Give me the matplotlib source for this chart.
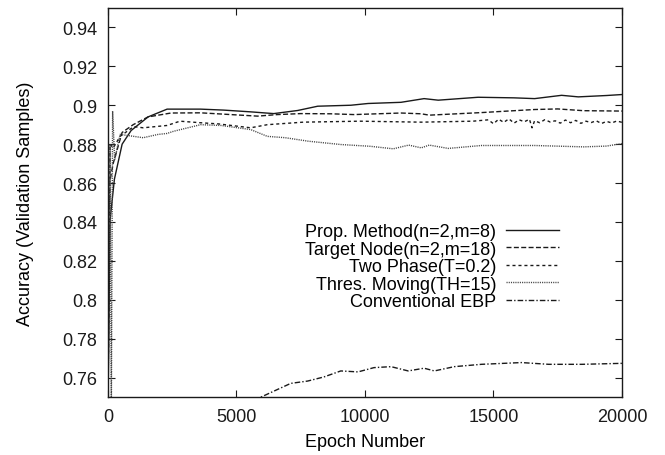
import matplotlib
matplotlib.use('Agg')
import matplotlib.pyplot as plt
from matplotlib.ticker import StrMethodFormatter

plt.rcParams['font.family'] = ['Liberation Sans', 'DejaVu Sans']
plt.rcParams['font.size'] = 13

# 데이터
prop_epoch = [0, 80, 250, 550, 900, 1560, 2300, 3600, 4500, 5550, 6450, 7380, 8160,
              9450, 10120, 11400, 12300, 12850, 14400, 15800, 16600, 17650, 18300, 19400, 20000]
prop_acc = [0.745, 0.841, 0.862, 0.880, 0.887, 0.894, 0.898, 0.898, 0.8975, 0.8966, 0.8957, 0.8973, 0.8995,
            0.900, 0.9009, 0.9015, 0.9034, 0.9026, 0.9041, 0.9038, 0.9034, 0.9051, 0.9043, 0.9050, 0.9055]

target_epoch = [0, 60, 200, 550, 980, 1560, 2450, 3600, 5820, 6600, 7500, 8670, 9570, 11400,
                12190, 12500, 14500, 16600, 17500, 18500, 20000]
target_acc = [0.745, 0.860, 0.870, 0.886, 0.890, 0.894, 0.896, 0.8961, 0.8944, 0.8952, 0.8957, 0.8956, 0.8952, 0.896,
              0.8956, 0.8949, 0.8962, 0.8978, 0.8981, 0.8972, 0.8970]

two_epoch = [0, 80, 200, 470, 1000, 1370, 2300, 2800, 3600, 4300, 5550, 6200, 7600, 9800, 12190,
             13000, 14200, 14800, 15000, 15200, 15400, 15600, 15800, 16000, 16200, 16400, 16500, 16600,
             16800, 17000, 17200, 17400, 17600, 17800, 18000, 18200, 18400, 18600, 18800, 19000,
             19200, 19400, 19600, 19800, 20000]
two_acc = [0.745, 0.880, 0.878, 0.884, 0.889, 0.8884, 0.8896, 0.8918, 0.891, 0.8904, 0.8884, 0.890, 0.8913, 0.8918, 0.8913,
           0.8915, 0.8918, 0.8925, 0.8905, 0.8928, 0.8912, 0.8930, 0.8908, 0.8925, 0.8915, 0.8928, 0.8884, 0.8920,
           0.8910, 0.8926, 0.8914, 0.8920, 0.8908, 0.8924, 0.8910, 0.8922, 0.8907, 0.8918, 0.8911, 0.8920,
           0.8906, 0.8917, 0.8909, 0.8919, 0.8912]

thres_epoch = [0, 80, 130, 180, 260, 470, 1370, 1950, 2300, 2550, 3600, 4400, 5550, 6200, 6900,
               7800, 9060, 10200, 11100, 11700, 12190, 12500, 13240, 14530, 16600, 18500, 19400, 20000]
thres_acc = [0.740, 0.880, 0.740, 0.897, 0.872, 0.885, 0.8833, 0.885, 0.8855, 0.8866, 0.890, 0.8896, 0.8875, 0.884, 0.8833,
             0.8815, 0.8798, 0.8789, 0.8776, 0.8795, 0.8781, 0.8795, 0.8778, 0.8793, 0.8793, 0.8786, 0.8790, 0.8803]

ebp_epoch = [0, 100, 3000, 5960, 7110, 7770, 8400, 9060, 9730, 10350, 11015, 11680, 12300, 12700,
             13475, 14530, 16090, 17150, 18440, 20000]
ebp_acc = [0.600, 0.680, 0.720, 0.750, 0.757, 0.7582, 0.7603, 0.7634, 0.7629, 0.7651, 0.7656, 0.7634, 0.7648, 0.7634,
           0.7656, 0.7668, 0.7677, 0.7668, 0.7668, 0.7673]

labels = ['Prop. Method(n=2,m=8)', 'Target Node(n=2,m=18)', 'Two Phase(T=0.2)',
          'Thres. Moving(TH=15)', 'Conventional EBP']
x_ticks = [0, 5000, 10000, 15000, 20000]
y_ticks = [0.76, 0.78, 0.80, 0.82, 0.84, 0.86, 0.88, 0.90, 0.92, 0.94]

fig = plt.figure(figsize=(6.65, 4.56), dpi=100)
ax = fig.add_axes([0.1624, 0.1272, 0.7729, 0.8531])

c = '#1a1a1a'
ax.plot(prop_epoch, prop_acc, color=c, lw=1.0, linestyle='-', label=labels[0])
ax.plot(target_epoch, target_acc, color=c, lw=1.0, linestyle=(0, (3.6, 1.7)), label=labels[1])
ax.plot(two_epoch, two_acc, color=c, lw=1.0, linestyle=(0, (2.2, 2.1)), label=labels[2])
ax.plot(thres_epoch, thres_acc, color='#444444', lw=1.0, linestyle=(0, (0.8, 0.8)), label=labels[3])
ax.plot(ebp_epoch, ebp_acc, color=c, lw=1.0, linestyle=(0, (4, 1.5, 1, 1.5)), label=labels[4])

ax.set_xlim(0, 20000)
ax.set_ylim(0.75, 0.95)
ax.set_xticks(x_ticks)
ax.set_yticks(y_ticks)
ax.yaxis.set_major_formatter(StrMethodFormatter('{x:g}'))
ax.tick_params(direction='in', length=5, width=0.8, top=True, right=True, colors='#1a1a1a', pad=8)
for s in ax.spines.values():
    s.set_linewidth(1.0)
    s.set_color('#1a1a1a')

ax.set_xlabel('Epoch Number', labelpad=6)
ax.set_ylabel('Accuracy (Validation Samples)', labelpad=20)

leg = ax.legend(loc='center right', bbox_to_anchor=(0.877, 0.335), frameon=False, markerfirst=False,
                borderpad=0, borderaxespad=0, handlelength=2.9, handletextpad=0.55, labelspacing=0.02)
# 범례 텍스트 오른쪽 정렬
for col in leg._legend_handle_box.get_children():
    col.align = 'right'

plt.savefig('out.png', dpi=100)
plt.close()
